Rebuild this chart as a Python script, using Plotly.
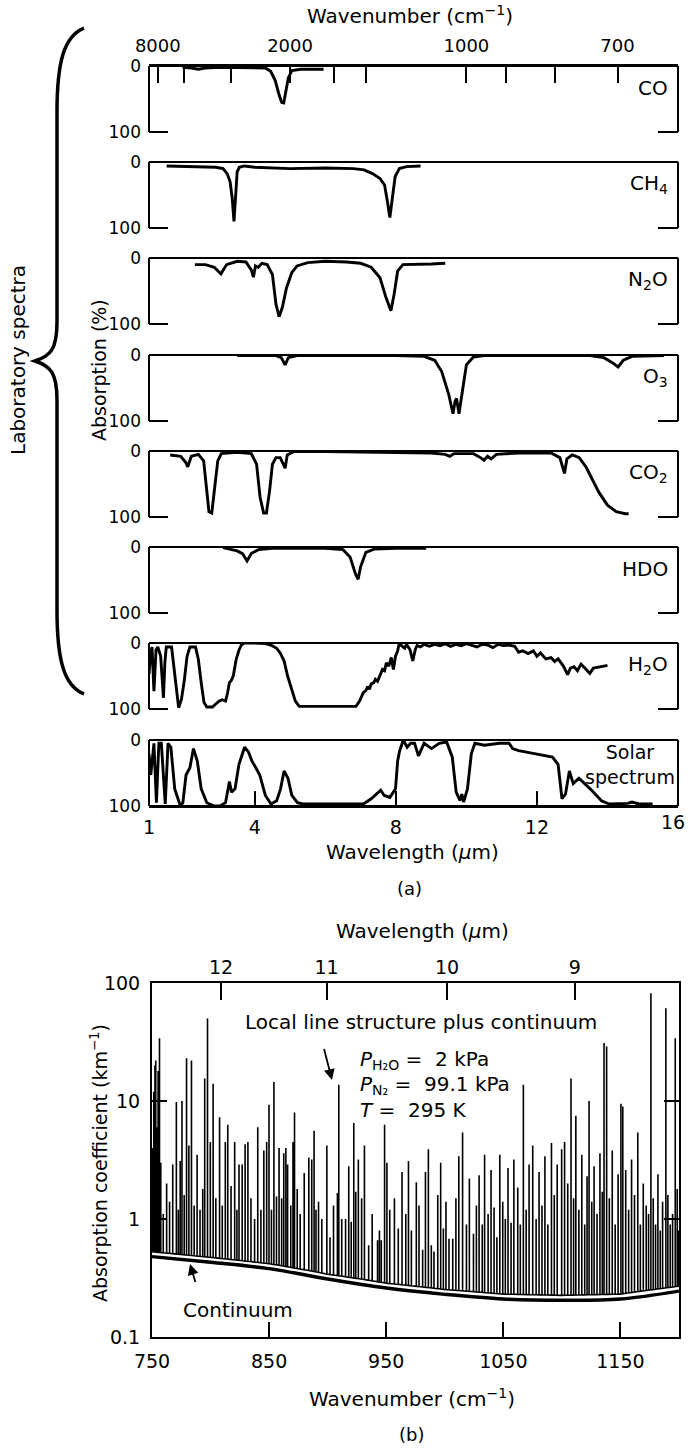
import numpy as np
import plotly.graph_objects as go

W, H = 688, 1448
FONT = "DejaVu Sans"

# ---------------- Part (a) data: wavelength (um) vs absorption (%) ----------------
top_wavenumber_major = [8000, 2000, 1000, 700]
top_wavenumber_labels = ["8000", "2000", "1000", "700"]
top_wavenumber_minor = [5000, 3000, 1600, 1400, 900, 800]
wavelength_ticks = [1, 4, 8, 12]
wavelength_labels = ["1", "4", "8", "12"]
wavelength_end_tick = 16
wavelength_end_label = "16"
absorption_ticks = [0, 100]
absorption_labels = ["0", "100"]

co_wl = [1.95, 2.2, 2.4, 2.6, 3.0, 3.6, 4.1, 4.3, 4.45, 4.58, 4.68, 4.76, 4.82, 4.88, 4.95, 5.05, 5.3, 5.6, 5.95]
co_abs = [2, 3, 5, 3, 2, 2, 2, 3, 8, 22, 42, 55, 56, 40, 18, 7, 5, 5, 5]

ch4_wl = [1.5, 2.0, 2.5, 2.9, 3.1, 3.22, 3.3, 3.36, 3.41, 3.45, 3.5, 3.56, 3.7, 4.0, 5.0, 6.0, 6.8, 7.1,
          7.35, 7.55, 7.68, 7.76, 7.83, 7.9, 7.98, 8.1, 8.3, 8.7]
ch4_abs = [6, 7, 8, 8, 10, 18, 30, 55, 90, 55, 15, 8, 6, 8, 10, 9, 10, 12,
           18, 25, 35, 60, 84, 55, 22, 10, 7, 6]

n2o_wl = [2.3, 2.6, 2.85, 3.04, 3.2, 3.5, 3.75, 3.9, 3.96, 4.02, 4.1, 4.2, 4.35, 4.5, 4.6, 4.69, 4.78,
          4.9, 5.05, 5.2, 5.5, 6.0, 6.6, 7.0, 7.3, 7.55, 7.72, 7.86, 7.95, 8.05, 8.2, 8.5, 9.0, 9.4]
n2o_abs = [10, 10, 14, 24, 10, 5, 6, 18, 29, 12, 14, 8, 10, 25, 70, 89, 75,
           45, 22, 12, 7, 5, 6, 8, 14, 30, 60, 80, 55, 20, 10, 10, 9, 8]

o3_wl = [3.5, 4.6, 4.75, 4.86, 4.95, 5.2, 8.0, 8.8, 9.1, 9.3, 9.5, 9.62, 9.68, 9.72, 9.79, 9.88, 10.0,
         10.2, 10.5, 13.5, 13.9, 14.15, 14.3, 14.45, 14.7, 15.6]
o3_abs = [1, 1, 4, 15, 4, 1, 1, 2, 8, 25, 60, 89, 70, 66, 89, 55, 15,
          3, 1, 1, 4, 12, 18, 8, 2, 1]

co2_wl = [1.6, 1.9, 2.05, 2.1, 2.2, 2.4, 2.55, 2.63, 2.7, 2.78, 2.86, 2.95, 3.05, 3.5, 3.9, 4.05, 4.15,
          4.25, 4.33, 4.42, 4.5, 4.6, 4.72, 4.8, 4.86, 4.92, 5.1, 6.0, 8.0, 9.0, 9.4, 9.53, 9.65, 10.2,
          10.4, 10.5, 10.6, 10.7, 10.85, 11.5, 12.4, 12.65, 12.78, 12.85, 13.0, 13.2, 13.4, 13.55, 13.75,
          14.0, 14.25, 14.5, 14.6]
co2_abs = [6, 8, 18, 24, 8, 5, 15, 60, 92, 94, 60, 15, 4, 2, 4, 20, 70,
           94, 94, 60, 20, 10, 10, 20, 26, 6, 1, 1, 2, 3, 5, 8, 4, 4,
           10, 14, 8, 12, 5, 3, 3, 10, 34, 12, 6, 10, 25, 40, 62,
           82, 92, 95, 95]

hdo_wl = [3.1, 3.3, 3.5, 3.65, 3.78, 3.9, 4.1, 4.5, 6.0, 6.5, 6.7, 6.85, 6.93, 7.0, 7.15, 7.4, 8.0, 8.86]
hdo_abs = [1, 3, 6, 10, 21, 10, 4, 2, 2, 4, 15, 40, 49, 30, 8, 3, 2, 2]

h2o_wl = [1.0, 1.04, 1.086, 1.14, 1.2, 1.25, 1.33, 1.41, 1.45, 1.49, 1.64, 1.72, 1.84, 1.92, 2.0, 2.08,
          2.16, 2.32, 2.4, 2.48, 2.56, 2.64, 2.8, 2.9, 2.99, 3.08, 3.17, 3.23, 3.28, 3.33, 3.39, 3.47,
          3.55, 3.62, 3.7, 4.0, 4.3, 4.45, 4.62, 4.72, 4.83, 4.93, 5.05, 5.15, 5.26, 6.87, 6.97, 7.08,
          7.15, 7.2, 7.25, 7.3, 7.37, 7.42, 7.48, 7.55, 7.62, 7.68, 7.73, 7.8, 7.87, 7.93, 7.99, 8.05,
          8.1, 8.16, 8.25, 8.3, 8.4, 8.48, 8.55, 8.6, 8.7, 8.8, 8.95, 9.1, 9.25, 9.4, 9.55, 9.7, 9.85,
          10.0, 10.15, 10.3, 10.45, 10.6, 10.75, 10.9, 11.05, 11.2, 11.37, 11.48, 11.6, 11.75, 11.9,
          12.0, 12.1, 12.25, 12.4, 12.5, 12.6, 12.75, 12.87, 12.95, 13.05, 13.15, 13.25, 13.4, 13.5,
          13.6, 13.75, 13.9, 14.0]
h2o_abs = [47, 20, 6, 73, 10, 6, 20, 83, 30, 6, 6, 40, 98, 85, 57, 20,
           6, 6, 25, 60, 90, 97, 97, 92, 88, 86, 88, 75, 60, 57, 50, 25,
           11, 3, 0, 0, 1, 3, 8, 15, 27, 50, 73, 88, 96, 96, 88, 75,
           72, 66, 70, 62, 60, 55, 58, 48, 40, 42, 30, 35, 22, 40, 20, 12,
           0, 4, 8, 2, 10, 27, 10, 4, 6, 2, 5, 2, 4, 1, 5, 2, 4,
           1, 4, 6, 2, 3, 7, 2, 4, 3, 5, 14, 12, 16, 12,
           20, 15, 24, 22, 28, 24, 35, 48, 38, 36, 42, 32, 40, 46,
           38, 36, 35, 34]

solar_wl = [1.0, 1.05, 1.14, 1.21, 1.28, 1.35, 1.46, 1.54, 1.62, 1.73, 1.89, 1.96, 2.05, 2.16, 2.26,
            2.37, 2.48, 2.64, 2.85, 3.01, 3.17, 3.28, 3.34, 3.44, 3.55, 3.71, 3.82, 3.92, 4.03, 4.14,
            4.3, 4.46, 4.62, 4.73, 4.83, 4.94, 5.05, 5.21, 5.37, 7.08, 7.3, 7.57, 7.67, 7.83, 7.99,
            8.05, 8.1, 8.21, 8.32, 8.42, 8.53, 8.64, 8.8, 9.01, 9.23, 9.44, 9.6, 9.71, 9.82, 9.87,
            9.92, 10.03, 10.14, 10.24, 10.51, 10.94, 11.21, 11.31, 11.48, 11.69, 12.01, 12.44, 12.6,
            12.71, 12.81, 12.92, 13.03, 13.19, 13.51, 13.83, 14.05, 14.58, 14.69, 14.9, 15.28]
solar_abs = [21, 53, 5, 95, 5, 5, 97, 5, 11, 74, 100, 95, 53, 42, 13,
             32, 74, 95, 100, 100, 95, 63, 79, 74, 37, 11, 18, 32, 42, 53,
             84, 97, 92, 74, 47, 58, 84, 95, 97, 97, 89, 76, 84, 87, 74,
             32, 18, 0, 11, 5, 5, 24, 5, 13, 5, 3, 26, 79, 92, 82,
             94, 74, 21, 5, 8, 5, 5, 13, 16, 18, 21, 26, 37,
             89, 82, 47, 66, 58, 74, 92, 97, 96, 94, 97, 97]

panel_labels = ["CO", "CH<sub>4</sub>", "N<sub>2</sub>O", "O<sub>3</sub>", "CO<sub>2</sub>", "HDO",
                "H<sub>2</sub>O", "Solar<br>spectrum"]
panel_wl = [co_wl, ch4_wl, n2o_wl, o3_wl, co2_wl, hdo_wl, h2o_wl, solar_wl]
panel_abs = [co_abs, ch4_abs, n2o_abs, o3_abs, co2_abs, hdo_abs, h2o_abs, solar_abs]

# ---------------- Part (b) data ----------------
line_wn = [750.5, 751.5, 752.5, 753.2, 754.0, 755.2, 756.4, 757.5, 759.6, 762.5, 765.0, 767.7, 770.8,
           772.5, 774.1, 775.6, 777.5, 779.5, 781.5, 783.7, 786.0, 788.5, 791.0, 793.3, 795.0, 797.4,
           799.8, 802.2, 804.5, 807.7, 810.0, 812.6, 814.7, 817.5, 820.6, 822.5, 824.3, 827.0, 829.5,
           831.9, 834.5, 837.6, 840.3, 843.0, 845.5, 847.9, 849.9, 852.0, 854.1, 856.3, 858.5, 860.7,
           862.5, 864.3, 865.8, 868.5, 870.4, 871.7, 874.0, 876.5, 880.0, 883.9, 886.4, 888.4, 890.0,
           892.2, 895.0, 899.3, 902.0, 905.0, 908.3, 909.5, 912.0, 915.3, 918.0, 920.1, 922.3, 924.0,
           926.2, 929.0, 931.4, 935.0, 938.0, 942.6, 944.2, 945.8, 948.6, 950.6, 953.0, 957.0, 960.3,
           963.5, 966.7, 969.0, 971.5, 975.7, 978.0, 981.1, 983.5, 986.0, 988.5, 990.8, 994.0, 996.5,
           998.8, 1001.0, 1003.6, 1006.8, 1009.5, 1012.0, 1015.2, 1018.5, 1021.0, 1024.5, 1027.0,
           1029.3, 1032.0, 1034.0, 1037.0, 1039.5, 1042.1, 1044.5, 1047.0, 1049.5, 1051.7, 1054.0,
           1056.6, 1059.0, 1062.3, 1064.5, 1067.1, 1069.5, 1072.0, 1075.1, 1078.0, 1080.5, 1083.0,
           1085.5, 1088.0, 1091.1, 1093.5, 1096.0, 1099.8, 1102.3, 1105.0, 1107.8, 1110.0, 1111.9,
           1114.5, 1117.0, 1119.5, 1121.5, 1123.2, 1125.5, 1127.5, 1130.0, 1132.5, 1134.5, 1136.0,
           1138.2, 1140.5, 1143.0, 1145.5, 1148.0, 1150.4, 1152.0, 1154.5, 1157.0, 1159.5, 1162.0,
           1164.8, 1167.0, 1169.5, 1172.0, 1174.0, 1176.0, 1178.0, 1180.0, 1182.0, 1184.0, 1186.0,
           1188.8, 1190.5, 1192.5, 1194.5, 1196.8, 1198.5, 1199.5]
line_peak = [4.0, 12, 20, 22, 6, 18, 34, 3, 1.1, 2.0, 1.4, 2.9, 9.8,
             1.2, 3.1, 10, 1.6, 23, 4.2, 22, 1.3, 3.5, 1.2, 1.8, 15.5, 50,
             4.5, 14, 1.5, 7.3, 1.3, 4.5, 6.3, 1.9, 4.5, 1.2, 2.9, 2.9, 4.3,
             4.5, 1.5, 1.0, 6, 1.2, 3.8, 4.5, 9.3, 1.2, 14.5, 1.55, 4.0, 1.5,
             3.6, 4, 2.9, 1.3, 4.5, 8, 1.8, 1.1, 2.45, 3.3, 3.2, 5.6, 1.2,
             1.4, 1.0, 4.2, 0.7, 1.3, 1.66, 13.7, 1.0, 1.0, 2.8, 0.95, 6.5, 1.7,
             3.2, 1.5, 4.2, 0.6, 1.1, 0.66, 0.8, 0.66, 6.3, 3.0, 1.2, 1.5, 0.83,
             2.5, 1.1, 3.1, 0.8, 2.05, 1.3, 0.55, 2.5, 3.9, 0.6, 0.53, 1.6, 3.0,
             0.83, 1.4, 0.68, 0.68, 1.5, 3.4, 5.4, 0.9, 2.2, 0.75, 1.3,
             2.35, 0.9, 3.5, 1.1, 2.6, 1.25, 0.7, 3.5, 1.4, 1.0, 2.7,
             0.93, 3.2, 1.85, 0.9, 13.7, 1.2, 2.9, 4.2, 1.0, 2.5, 1.3,
             3.4, 0.9, 4.4, 1.6, 2.9, 3.9, 4.5, 2.0, 15.5, 1.5, 7.5,
             1.2, 3.5, 0.9, 2.3, 10, 1.4, 2.8, 1.1, 3.6, 1.7, 31,
             29, 1.5, 3.8, 0.9, 2.4, 9.5, 9, 2.6, 1.2, 3.2, 1.6,
             5.4, 0.9, 2.0, 1.3, 1.1, 82, 1.5, 0.9, 2.4, 0.8, 1.4,
             61, 1.6, 0.9, 1.1, 34, 1.8, 0.8]
cont_wn = [750, 800, 850, 900, 950, 1000, 1050, 1100, 1150, 1200]
cont_k = [0.48, 0.43, 0.38, 0.31, 0.26, 0.23, 0.21, 0.205, 0.21, 0.245]
bottom_wn_ticks = [750, 850, 950, 1050, 1150]
top_wl_tick_pos = [809, 899, 1002, 1111]
top_wl_labels = ["12", "11", "10", "9"]
k_ticks = [0.1, 1, 10, 100]
k_labels = ["0.1", "1", "10", "100"]


# ---------------- layout helpers (pixel -> paper) ----------------
def X(px):
    return px / W


def Y(py):
    return 1 - py / H


AL, AR = 149, 678            # part (a) plot left/right pixel
PANEL_TOPS = [66, 162, 258, 355, 451, 547, 643, 740]
PANEL_H = 66
BL, BR, BT, BB = 152, 679, 983, 1337   # part (b) box

fig = go.Figure()
layout = dict(width=W, height=H, margin=dict(l=0, r=0, t=0, b=0),
              paper_bgcolor="white", plot_bgcolor="white", showlegend=False,
              font=dict(family=FONT, color="black", size=18))
shapes = []
annotations = []
LW = 2

for i, (wl, ab) in enumerate(zip(panel_wl, panel_abs)):
    n = i + 1
    xa = "xaxis" if n == 1 else f"xaxis{n}"
    ya = "yaxis" if n == 1 else f"yaxis{n}"
    t = PANEL_TOPS[i]
    b = t + PANEL_H
    fig.add_trace(go.Scatter(x=wl, y=ab, mode="lines", line=dict(color="black", width=2.9),
                             xaxis=f"x{n}" if n > 1 else "x", yaxis=f"y{n}" if n > 1 else "y",
                             hoverinfo="skip"))
    xdict = dict(domain=[X(AL), X(AR)], range=[1, 16], anchor=f"y{n}" if n > 1 else "y",
                 showgrid=False, zeroline=False, automargin=False)
    if n == 1:
        xdict.update(side="top", tickmode="array", tickvals=[1e4 / w for w in top_wavenumber_major],
                     ticktext=top_wavenumber_labels, ticks="inside", ticklen=17, tickwidth=2,
                     tickcolor="black", showline=True, linewidth=LW, linecolor="black",
                     tickfont=dict(size=18), ticklabelstandoff=5,
                     minor=dict(tickmode="array", tickvals=[1e4 / w for w in top_wavenumber_minor],
                                ticks="inside", ticklen=17, tickwidth=2, tickcolor="black",
                                showgrid=False))
    elif n == 8:
        xdict.update(side="bottom", tickmode="array", tickvals=wavelength_ticks,
                     ticktext=wavelength_labels,
                     ticks="inside", ticklen=15, tickwidth=2, tickcolor="black",
                     showline=True, linewidth=LW, linecolor="black",
                     tickfont=dict(size=19), ticklabelstandoff=3,
                     minor=dict(tickmode="array", tickvals=[wavelength_end_tick], ticks="inside",
                                ticklen=15, tickwidth=2, tickcolor="black", showgrid=False))
    else:
        xdict.update(visible=False)
    layout[xa] = xdict
    layout[ya] = dict(domain=[Y(b), Y(t)], range=[100, 0], anchor=f"x{n}" if n > 1 else "x",
                      tickvals=absorption_ticks, ticktext=absorption_labels, ticks="",
                      showgrid=False, zeroline=False, showline=False, automargin=False,
                      tickfont=dict(size=17), ticklabelstandoff=7)
    # panel frame: top, left, right, bottom corner stubs
    segs = [(AL, t, AR, t), (AL, t, AL, b), (AR, t, AR, b)]
    if n < 8:
        segs += [(AL, b, AL + 19, b), (AR - 20, b, AR, b)]
    else:
        segs += [(AL, b, AR, b)]
    for (x0, y0, x1, y1) in segs:
        shapes.append(dict(type="line", xref="paper", yref="paper", x0=X(x0), y0=Y(y0),
                           x1=X(x1), y1=Y(y1), line=dict(color="black", width=LW)))
    # species label
    if n < 8:
        annotations.append(dict(text=panel_labels[i], xref="paper", yref="paper",
                                x=X(670), y=Y(t + 22), xanchor="right", yanchor="middle",
                                showarrow=False, font=dict(size=20)))
    else:
        annotations.append(dict(text=panel_labels[i], xref="paper", yref="paper",
                                x=X(630), y=Y(t + 24), xanchor="center", yanchor="middle",
                                align="center", showarrow=False, font=dict(size=19)))

# end label of the wavelength axis, kept inside the page edge
annotations.append(dict(text=wavelength_end_label, xref="x8", yref="paper", x=wavelength_end_tick,
                        y=Y(PANEL_TOPS[7] + PANEL_H + 3), xanchor="right", yanchor="top",
                        xshift=9, showarrow=False, font=dict(size=19)))

# ---------------- Part (b) ----------------
base = np.interp(line_wn, cont_wn, cont_k) * 1.1
xs, ys = [], []
for w, p, bb in zip(line_wn, line_peak, base):
    xs += [w, w, w]
    ys += [bb, p, bb]
fig.add_trace(go.Scatter(x=xs, y=ys, mode="lines", line=dict(color="black", width=1.6),
                         xaxis="x9", yaxis="y9", hoverinfo="skip"))
fig.add_trace(go.Scatter(x=cont_wn, y=cont_k, mode="lines", line=dict(color="black", width=3.4, shape="spline"),
                         xaxis="x10", yaxis="y9", hoverinfo="skip"))

layout["xaxis9"] = dict(domain=[X(BL), X(BR)], range=[750, 1200], anchor="y9",
                        tickvals=bottom_wn_ticks, ticks="inside", ticklen=15, tickwidth=2,
                        tickcolor="black", showline=True, mirror=True, linewidth=LW,
                        linecolor="black", showgrid=False, zeroline=False, automargin=False,
                        tickfont=dict(size=19), ticklabelstandoff=6)
layout["xaxis10"] = dict(domain=[X(BL), X(BR)], range=[750, 1200], anchor="y9", overlaying="x9",
                         side="top", tickvals=top_wl_tick_pos, ticktext=top_wl_labels,
                         ticks="inside", ticklen=17, tickwidth=2, tickcolor="black",
                         showline=False, showgrid=False, zeroline=False, automargin=False,
                         tickfont=dict(size=19), ticklabelstandoff=4)
layout["yaxis9"] = dict(domain=[Y(BB), Y(BT)], type="log", range=[-1, 2], anchor="x9",
                        tickvals=k_ticks, ticktext=k_labels, ticks="inside", ticklen=15,
                        tickwidth=2, tickcolor="black", showline=True, mirror="ticks",
                        linewidth=LW, linecolor="black", showgrid=False, zeroline=False,
                        automargin=False, tickfont=dict(size=19), ticklabelstandoff=6)


# ---------------- texts ----------------
def txt(s, px, py, size=20, angle=0, xanchor="center", yanchor="middle", align="center"):
    annotations.append(dict(text=s, xref="paper", yref="paper", x=X(px), y=Y(py),
                            xanchor=xanchor, yanchor=yanchor, align=align, showarrow=False,
                            textangle=angle, font=dict(size=size)))


txt("Wavenumber (cm<sup>\u22121</sup>)", 410, 15, 20)
txt("Wavelength (<i>\u03bc</i>m)", 413, 852, 20)
txt("(a)", 410, 888, 18)
txt("Absorption (%)", 99, 370, 19, angle=-90)
txt("Laboratory spectra", 18, 360, 20, angle=-90)

txt("Wavelength (<i>\u03bc</i>m)", 422, 931, 20)
txt("Absorption coefficient (km<sup>\u22121</sup>)", 99, 1163, 19, angle=-90)
txt("Wavenumber (cm<sup>\u22121</sup>)", 412, 1398, 20)
txt("(b)", 412, 1434, 18)
txt("Local line structure plus continuum", 421, 1022, 20)
txt("<i>P</i><sub>H\u2082O</sub> =  2 kPa", 358, 1060, 20, xanchor="left")
txt("<i>P</i><sub>N\u2082</sub> =  99.1 kPa", 358, 1085, 20, xanchor="left")
txt("<i>T</i> =  295 K", 358, 1110, 20, xanchor="left")
txt("Continuum", 238, 1310, 20)

# arrows (pointer marks, no text)
annotations.append(dict(text=" ", xref="paper", yref="paper", x=X(332), y=Y(1080), ax=-11, ay=-43,
                        showarrow=True, arrowhead=2, arrowsize=1.2, arrowwidth=1.8, arrowcolor="black"))
annotations.append(dict(text=" ", xref="paper", yref="paper", x=X(190), y=Y(1264), ax=9, ay=30,
                        showarrow=True, arrowhead=2, arrowsize=1.2, arrowwidth=1.8, arrowcolor="black"))


# curly brace (paper coords)
def P(px, py):
    return f"{X(px):.5f},{Y(py):.5f}"


brace = (f"M {P(84, 28)} C {P(64, 36)} {P(57, 62)} {P(57, 112)} L {P(57, 322)} "
         f"C {P(57, 350)} {P(50, 356)} {P(35, 361)} C {P(50, 366)} {P(57, 372)} {P(57, 400)} "
         f"L {P(57, 610)} C {P(57, 660)} {P(64, 686)} {P(84, 694)}")
shapes.append(dict(type="path", xref="paper", yref="paper", path=brace,
                   line=dict(color="black", width=3.5)))

layout["shapes"] = shapes
layout["annotations"] = annotations
fig.update_layout(**layout)
fig.write_html("out.html", config={"displayModeBar": False},
               post_script="document.body.style.margin='0px';document.body.style.overflow='hidden';")
